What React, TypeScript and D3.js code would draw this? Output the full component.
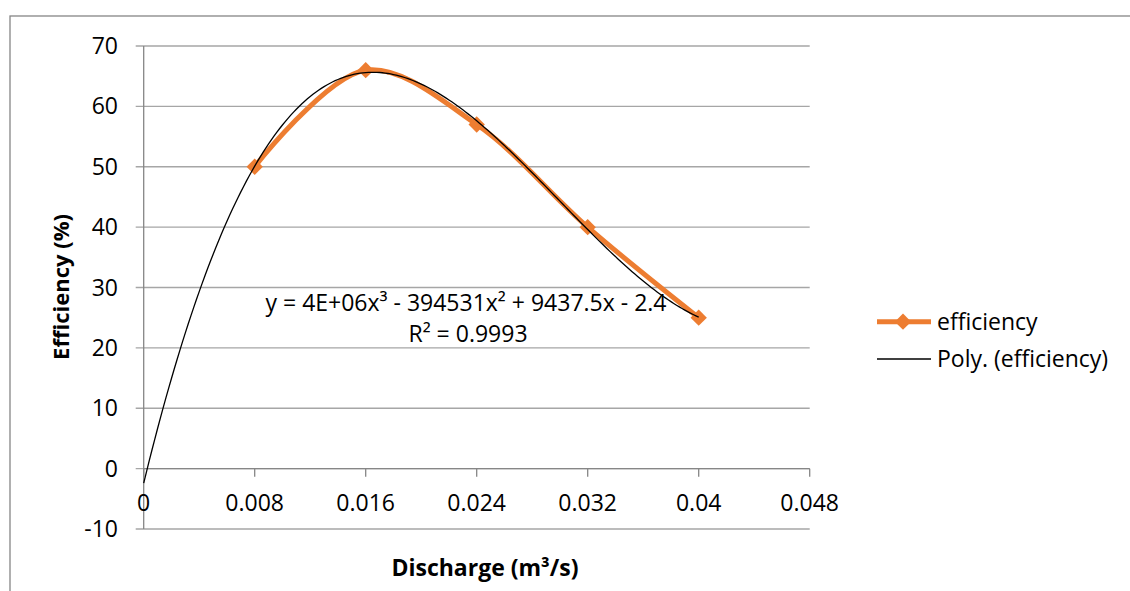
import * as d3 from "d3";
import { useEffect, useRef } from "react";

const discharge = [0.008, 0.016, 0.024, 0.032, 0.04];
const efficiency = [50, 66, 57, 40, 25];
const xTicks = [0, 0.008, 0.016, 0.024, 0.032, 0.04, 0.048];
const yTicks = [-10, 0, 10, 20, 30, 40, 50, 60, 70];
const seriesName = "efficiency";
const trendName = "Poly. (efficiency)";
const eqLine1 = "y = 4E+06x³ - 394531x² + 9437.5x - 2.4";
const eqLine2 = "R² = 0.9993";

// least squares cubic, done in scaled units (u = x*1000) to keep it stable
function cubicFit(xs: number[], ys: number[]) {
  const u = xs.map((v) => v * 1000);
  const n = 4;
  const A: number[][] = [];
  for (let i = 0; i < n; i++) {
    const row: number[] = [];
    for (let j = 0; j < n; j++) row.push(d3.sum(u, (v) => Math.pow(v, i + j)));
    row.push(d3.sum(u, (v, k) => Math.pow(v, i) * ys[k]));
    A.push(row);
  }
  for (let c = 0; c < n; c++) {
    let p = c;
    for (let r = c + 1; r < n; r++) if (Math.abs(A[r][c]) > Math.abs(A[p][c])) p = r;
    [A[c], A[p]] = [A[p], A[c]];
    for (let r = 0; r < n; r++) {
      if (r === c) continue;
      const f = A[r][c] / A[c][c];
      for (let k = c; k <= n; k++) A[r][k] -= f * A[c][k];
    }
  }
  const coef = A.map((row, i) => row[n] / row[i]);
  return (x: number) => {
    const v = x * 1000;
    return coef[0] + coef[1] * v + coef[2] * v * v + coef[3] * v * v * v;
  };
}

export default function App() {
  const ref = useRef<SVGSVGElement | null>(null);

  useEffect(() => {
    const svg = d3.select(ref.current);
    svg.selectAll("*").remove();
    const font = "'Open Sans', sans-serif";
    const fs = 23;

    const x = d3.scaleLinear().domain([0, 0.048]).range([143.7, 809.7]);
    const y = d3.scaleLinear().domain([-10, 70]).range([529, 46]);

    // chart border
    svg.append("rect")
      .attr("x", 10).attr("y", 16).attr("width", 1140).attr("height", 600)
      .attr("fill", "white").attr("stroke", "#868686").attr("stroke-width", 1.3);

    // gridlines
    svg.append("g")
      .selectAll("line")
      .data(yTicks)
      .enter()
      .append("line")
      .attr("x1", x(0) - 8).attr("x2", x(0.048))
      .attr("y1", (d) => y(d)).attr("y2", (d) => y(d))
      .attr("stroke", "#a6a6a6").attr("stroke-width", 1.3);

    // y labels
    svg.append("g")
      .selectAll("text")
      .data(yTicks)
      .enter()
      .append("text")
      .attr("x", 118).attr("y", (d) => y(d))
      .attr("dy", "0.35em")
      .attr("text-anchor", "end")
      .attr("font-family", font).attr("font-size", fs)
      .text((d) => String(d));

    // y axis line
    svg.append("line")
      .attr("x1", x(0)).attr("x2", x(0)).attr("y1", y(70)).attr("y2", y(-10))
      .attr("stroke", "#868686").attr("stroke-width", 1.3);

    // x axis at zero with ticks
    svg.append("line")
      .attr("x1", x(0)).attr("x2", x(0.048)).attr("y1", y(0)).attr("y2", y(0))
      .attr("stroke", "#868686").attr("stroke-width", 1.3);
    svg.append("g")
      .selectAll("line")
      .data(xTicks)
      .enter()
      .append("line")
      .attr("x1", (d) => x(d)).attr("x2", (d) => x(d))
      .attr("y1", y(0)).attr("y2", y(0) + 8)
      .attr("stroke", "#868686").attr("stroke-width", 1.3);
    svg.append("g")
      .selectAll("text")
      .data(xTicks)
      .enter()
      .append("text")
      .attr("x", (d) => x(d)).attr("y", 503)
      .attr("dy", "0.35em")
      .attr("text-anchor", "middle")
      .attr("font-family", font).attr("font-size", fs)
      .text((d) => String(d));

    // axis titles
    svg.append("text")
      .attr("transform", "translate(61,287) rotate(-90)")
      .attr("dy", "0.35em")
      .attr("text-anchor", "middle")
      .attr("font-family", font).attr("font-size", 22).attr("font-weight", "bold")
      .text("Efficiency (%)");
    svg.append("text")
      .attr("x", 485).attr("y", 568)
      .attr("dy", "0.35em")
      .attr("text-anchor", "middle")
      .attr("font-family", font).attr("font-size", 23).attr("font-weight", "bold")
      .text("Discharge (m³/s)");

    // data series
    const pts = discharge.map((d, i) => [d, efficiency[i]] as [number, number]);
    const line = d3.line<[number, number]>()
      .x((d) => x(d[0])).y((d) => y(d[1]))
      .curve(d3.curveCatmullRom.alpha(0.5));
    svg.append("path")
      .attr("d", line(pts))
      .attr("fill", "none").attr("stroke", "#ed7d31").attr("stroke-width", 5)
      .attr("stroke-linejoin", "round");

    const diamond = d3.symbol().type(d3.symbolDiamond2).size(170);
    svg.append("g")
      .selectAll("path")
      .data(pts)
      .enter()
      .append("path")
      .attr("transform", (d) => `translate(${x(d[0])},${y(d[1])})`)
      .attr("d", diamond())
      .attr("fill", "#ed7d31");

    // polynomial trendline
    const f = cubicFit(discharge, efficiency);
    const trend = d3.range(0, 201).map((i) => {
      const xv = (0.04 * i) / 200;
      return [xv, f(xv)] as [number, number];
    });
    svg.append("path")
      .attr("d", d3.line<[number, number]>().x((d) => x(d[0])).y((d) => y(d[1]))(trend))
      .attr("fill", "none").attr("stroke", "black").attr("stroke-width", 1.3);

    // equation label
    svg.append("text")
      .attr("x", 466).attr("y", 311)
      .attr("text-anchor", "middle")
      .attr("font-family", font).attr("font-size", fs)
      .text(eqLine1);
    svg.append("text")
      .attr("x", 468).attr("y", 342)
      .attr("text-anchor", "middle")
      .attr("font-family", font).attr("font-size", fs)
      .text(eqLine2);

    // legend
    const lg = svg.append("g");
    lg.append("line")
      .attr("x1", 877).attr("x2", 931).attr("y1", 321.7).attr("y2", 321.7)
      .attr("stroke", "#ed7d31").attr("stroke-width", 5);
    lg.append("path")
      .attr("transform", "translate(903,321.7)")
      .attr("d", diamond())
      .attr("fill", "#ed7d31");
    lg.append("text")
      .attr("x", 937).attr("y", 321.7).attr("dy", "0.35em")
      .attr("font-family", font).attr("font-size", fs)
      .text(seriesName);
    lg.append("line")
      .attr("x1", 877).attr("x2", 931).attr("y1", 359).attr("y2", 359)
      .attr("stroke", "black").attr("stroke-width", 1.3);
    lg.append("text")
      .attr("x", 937).attr("y", 359).attr("dy", "0.35em")
      .attr("font-family", font).attr("font-size", fs)
      .text(trendName);
  }, []);

  return (
    <svg
      ref={ref}
      width={1130}
      height={591}
      style={{ position: "absolute", left: 0, top: 0, background: "white" }}
    />
  );
}
